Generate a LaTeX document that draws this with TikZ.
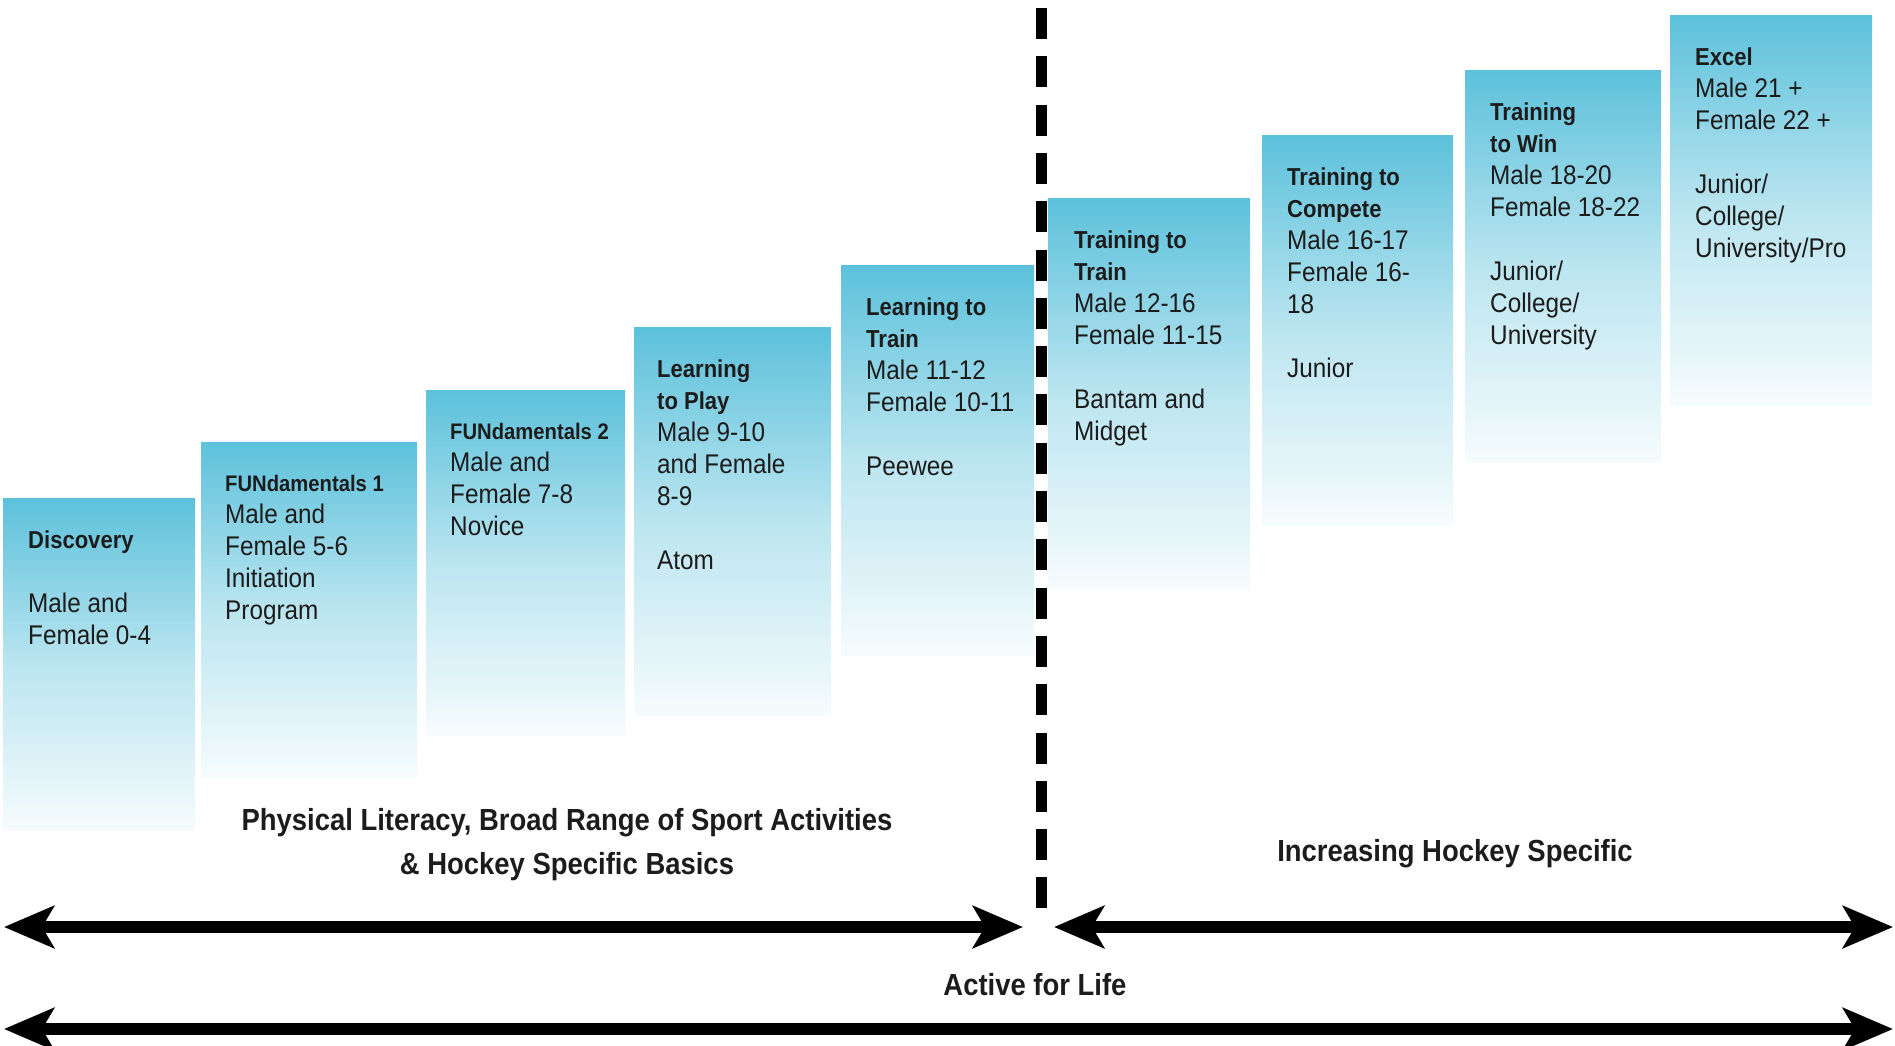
\documentclass[tikz,border=0pt]{standalone}
\usepackage{fontspec}
\setmainfont[FakeStretch=0.9]{Liberation Sans}
\usetikzlibrary{arrows.meta,calc}

\definecolor{stagetop}{RGB}{92,193,219}
\definecolor{ink}{RGB}{28,28,28}

% fill of each stage: strong cyan on top, fading to a very pale tint at the bottom
\pgfdeclareverticalshading{stagefade}{100bp}{%
  color(0bp)=(stagetop!5); color(25bp)=(stagetop!5); color(28bp)=(stagetop!10);
  color(50bp)=(stagetop!42); color(75bp)=(stagetop); color(100bp)=(stagetop)}

\newcommand\sttl[1]{{\fontsize{24.5}{32}\selectfont\bfseries #1}}
\newcommand\sttlsmall[1]{{\fontsize{22.5}{32}\selectfont\bfseries #1}}

\begin{document}
\begin{tikzpicture}[x=1pt,y=-1pt,
  stage/.style={shading=stagefade, draw=none, inner sep=0pt, outer sep=0pt,
    anchor=north west, minimum width=#1},
  stagetext/.style={anchor=north west, inner sep=0pt, align=left, text=ink,
    font=\fontsize{27}{32}\selectfont},
  caption/.style={inner sep=0pt, align=center, text=ink,
    font=\fontsize{30.5}{44}\selectfont\bfseries},
  span/.style={line width=12pt, draw=black,
    {Stealth[length=50pt,width=42pt,inset=12pt]}-{Stealth[length=50pt,width=42pt,inset=12pt]}},
  divider/.style={line width=11pt, draw=black, dash pattern=on 31pt off 17.3pt}
]
\useasboundingbox (0,0) rectangle (1895,1045);

% ---- stages ----
\node[stage=192pt, minimum height=332pt] (s1) at (3,498) {};
\node[stage=216pt, minimum height=335pt] (s2) at (201,442) {};
\node[stage=199pt, minimum height=345pt] (s3) at (426,390) {};
\node[stage=197pt, minimum height=388pt] (s4) at (634,327) {};
\node[stage=193pt, minimum height=390pt] (s5) at (841,265) {};
\node[stage=202pt, minimum height=390pt] (s6) at (1048,198) {};
\node[stage=191pt, minimum height=390pt] (s7) at (1262,135) {};
\node[stage=196pt, minimum height=392pt] (s8) at (1465,70) {};
\node[stage=202pt, minimum height=390pt] (s9) at (1670,15) {};

\node[stagetext] (t1) at ($(s1.north west)+(25,33)$)
  {\sttl{Discovery}\\[32pt] Male and\\ Female 0-4};
\node[stagetext] (t2) at ($(s2.north west)+(24,33)$)
  {\sttlsmall{FUNdamentals 1}\\ Male and\\ Female 5-6\\ Initiation\\ Program};
\node[stagetext] (t3) at ($(s3.north west)+(24,33)$)
  {\sttlsmall{FUNdamentals 2}\\ Male and\\ Female 7-8\\ Novice};
\node[stagetext] (t4) at ($(s4.north west)+(23,33)$)
  {\sttl{Learning}\\ \sttl{to Play}\\ Male 9-10\\ and Female\\ 8-9\\[32pt] Atom};
\node[stagetext] (t5) at ($(s5.north west)+(25,33)$)
  {\sttl{Learning to}\\ \sttl{Train}\\ Male 11-12\\ Female 10-11\\[32pt] Peewee};
\node[stagetext] (t6) at ($(s6.north west)+(26,33)$)
  {\sttl{Training to}\\ \sttl{Train}\\ Male 12-16\\ Female 11-15\\[32pt] Bantam and\\ Midget};
\node[stagetext] (t7) at ($(s7.north west)+(25,33)$)
  {\sttl{Training to}\\ \sttl{Compete}\\ Male 16-17\\ Female 16-\\ 18\\[32pt] Junior};
\node[stagetext] (t8) at ($(s8.north west)+(25,33)$)
  {\sttl{Training}\\ \sttl{to Win}\\ Male 18-20\\ Female 18-22\\[32pt] Junior/\\ College/\\ University};
\node[stagetext] (t9) at ($(s9.north west)+(25,33)$)
  {\sttl{Excel}\\ Male 21 +\\ Female 22 +\\[32pt] Junior/\\ College/\\ University/Pro};

% ---- dividing line ----
\coordinate (dtop) at (1041,8);
\coordinate (dbot) at (1041,909);
\draw[divider] (dtop) -- (dbot);

% ---- captions ----
\node[caption, anchor=north] (c1) at (567,808)
  {Physical Literacy, Broad Range of Sport Activities\\ \& Hockey Specific Basics};
\node[caption, anchor=base] (c2) at (1455,861) {Increasing Hockey Specific};
\node[caption, anchor=base] (c3) at (1035,995) {Active for Life};

% ---- spans ----
\coordinate (a1l) at (4,927);
\coordinate (a1r) at (1023,927);
\coordinate (a2l) at (1054,927);
\coordinate (a2r) at (1893,927);
\coordinate (a3l) at (4,1029);
\coordinate (a3r) at (1893,1029);
\draw[span] (a1l) -- (a1r);
\draw[span] (a2l) -- (a2r);
\draw[span] (a3l) -- (a3r);
\end{tikzpicture}
\end{document}
